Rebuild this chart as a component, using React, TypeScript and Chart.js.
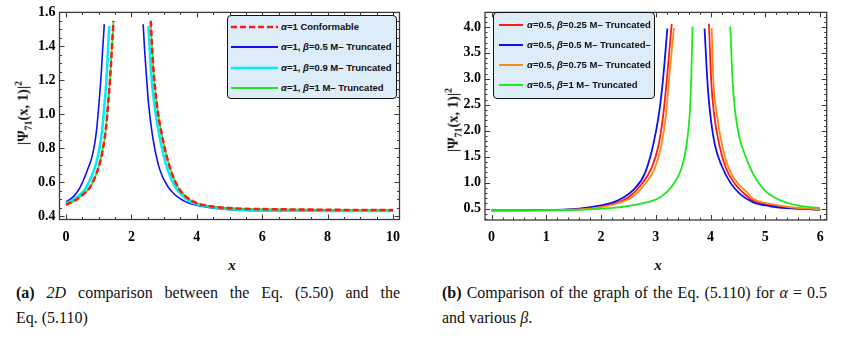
import React, { useEffect, useRef } from "react";
import { Chart, registerables } from "chart.js";
Chart.register(...registerables);

type P = [number, number];

// ---------- Panel (a) ----------
const xTicksA = [0, 2, 4, 6, 8, 10];
const yTicksA = [0.4, 0.6, 0.8, 1.0, 1.2, 1.4, 1.6];

const conformableLeftA: P[] = [[0, 0.468], [0.25, 0.49], [0.53, 0.53], [0.73, 0.57], [0.99, 0.685], [1.1, 0.77], [1.21, 0.9], [1.29, 1.07], [1.35, 1.22], [1.4, 1.38], [1.45, 1.55]];
const conformableRightA: P[] = [[2.59, 1.55], [2.63, 1.4], [2.67, 1.27], [2.77, 1.07], [2.93, 0.88], [3.18, 0.685], [3.43, 0.57], [3.84, 0.492], [4.3, 0.463], [5, 0.448], [6, 0.442], [7, 0.44], [8, 0.438], [9, 0.437], [10, 0.437]];

const beta05LeftA: P[] = [[0, 0.485], [0.25, 0.52], [0.43, 0.57], [0.68, 0.685], [0.82, 0.77], [0.93, 0.9], [1.01, 1.07], [1.07, 1.22], [1.12, 1.38], [1.17, 1.53]];
const beta05RightA: P[] = [[2.36, 1.53], [2.4, 1.39], [2.45, 1.25], [2.52, 1.07], [2.64, 0.88], [2.85, 0.685], [3.13, 0.57], [3.59, 0.492], [4.2, 0.457], [5, 0.438], [6, 0.433], [8, 0.431], [10, 0.431]];

const beta09LeftA: P[] = [[0, 0.475], [0.25, 0.5], [0.5, 0.54], [0.62, 0.57], [0.88, 0.685], [0.99, 0.77], [1.1, 0.9], [1.18, 1.07], [1.24, 1.22], [1.28, 1.37], [1.32, 1.52]];
const beta09RightA: P[] = [[2.52, 1.52], [2.56, 1.38], [2.6, 1.25], [2.7, 1.06], [2.85, 0.88], [3.09, 0.685], [3.35, 0.57], [3.75, 0.492], [4.25, 0.46], [5, 0.442], [6, 0.435], [8, 0.432], [10, 0.431]];

const beta1LeftA: P[] = [[0, 0.468], [0.25, 0.49], [0.53, 0.53], [0.73, 0.57], [0.99, 0.685], [1.1, 0.77], [1.21, 0.9], [1.29, 1.07], [1.35, 1.22], [1.4, 1.38], [1.45, 1.55]];
const beta1RightA: P[] = [[2.59, 1.55], [2.63, 1.4], [2.67, 1.27], [2.77, 1.07], [2.93, 0.88], [3.18, 0.685], [3.43, 0.57], [3.84, 0.492], [4.3, 0.463], [5, 0.448], [6, 0.442], [7, 0.44], [8, 0.438], [9, 0.437], [10, 0.437]];

// ---------- Panel (b) ----------
const xTicksB = [0, 1, 2, 3, 4, 5, 6];
const yTicksB = [0.5, 1.0, 1.5, 2.0, 2.5, 3.0, 3.5, 4.0];

const b025LeftB: P[] = [[0, 0.465], [0.8, 0.468], [1.6, 0.49], [2.0, 0.54], [2.22, 0.59], [2.5, 0.72], [2.74, 0.97], [2.92, 1.28], [3.05, 1.72], [3.14, 2.35], [3.2, 2.98], [3.29, 4.06]];
const b025RightB: P[] = [[3.97, 4.06], [4.01, 2.98], [4.06, 2.35], [4.16, 1.72], [4.28, 1.28], [4.45, 0.97], [4.6, 0.8], [4.78, 0.65], [5.09, 0.57], [5.39, 0.52], [6, 0.48]];

const b05LeftB: P[] = [[0, 0.465], [0.8, 0.47], [1.6, 0.5], [2.0, 0.56], [2.22, 0.62], [2.4, 0.71], [2.59, 0.86], [2.8, 1.18], [2.95, 1.72], [3.06, 2.35], [3.13, 2.98], [3.21, 3.97]];
const b05RightB: P[] = [[3.89, 3.97], [3.94, 2.98], [3.99, 2.35], [4.08, 1.72], [4.2, 1.33], [4.36, 1.0], [4.54, 0.78], [4.78, 0.62], [5.09, 0.545], [5.39, 0.51], [6, 0.48]];

const b075LeftB: P[] = [[0, 0.465], [0.8, 0.467], [1.6, 0.485], [2.0, 0.53], [2.22, 0.575], [2.56, 0.72], [2.8, 0.97], [2.98, 1.28], [3.1, 1.72], [3.19, 2.35], [3.24, 2.98], [3.33, 3.98]];
const b075RightB: P[] = [[4.02, 3.98], [4.05, 2.98], [4.11, 2.35], [4.21, 1.72], [4.33, 1.28], [4.51, 0.97], [4.65, 0.83], [4.78, 0.69], [5.09, 0.59], [5.39, 0.535], [6, 0.485]];

const b1LeftB: P[] = [[0, 0.465], [0.8, 0.466], [1.6, 0.475], [2.22, 0.515], [2.5, 0.55], [2.75, 0.6], [3.08, 0.72], [3.32, 0.97], [3.47, 1.28], [3.56, 1.72], [3.62, 2.35], [3.645, 2.98], [3.67, 4.01]];
const b1RightB: P[] = [[4.36, 4.01], [4.4, 2.98], [4.45, 2.35], [4.53, 1.85], [4.63, 1.53], [4.78, 1.16], [4.97, 0.87], [5.21, 0.69], [5.58, 0.56], [6, 0.51]];

// ---------- helpers ----------
const toPts = (left: P[], right: P[]) => {
  const a: any[] = left.map(([x, y]) => ({ x, y }));
  a.push({ x: (left[left.length - 1][0] + right[0][0]) / 2, y: null });
  right.forEach(([x, y]) => a.push({ x, y }));
  return a;
};

const framePlugin = {
  id: "mframe",
  afterDraw(chart: any, _args: any, opts: any) {
    const { ctx, chartArea: a, scales } = chart;
    const xs = scales.x, ys = scales.y;
    ctx.save();
    ctx.strokeStyle = "#3a3a3a";
    ctx.lineWidth = 1;
    const drawX = (v: number, len: number) => {
      const p = Math.round(xs.getPixelForValue(v)) + 0.5;
      ctx.beginPath();
      ctx.moveTo(p, a.bottom); ctx.lineTo(p, a.bottom - len);
      ctx.moveTo(p, a.top); ctx.lineTo(p, a.top + len);
      ctx.stroke();
    };
    const drawY = (v: number, len: number) => {
      const p = Math.round(ys.getPixelForValue(v)) + 0.5;
      ctx.beginPath();
      ctx.moveTo(a.left, p); ctx.lineTo(a.left + len, p);
      ctx.moveTo(a.right, p); ctx.lineTo(a.right - len, p);
      ctx.stroke();
    };
    const eps = 1e-9;
    for (let v = Math.ceil(xs.min / opts.xMinor) * opts.xMinor; v <= xs.max + eps; v += opts.xMinor) drawX(v, 2.5);
    for (let v = Math.ceil(ys.min / opts.yMinor) * opts.yMinor; v <= ys.max + eps; v += opts.yMinor) drawY(v, 2.5);
    opts.xMajor.forEach((v: number) => drawX(v, 5));
    opts.yMajor.forEach((v: number) => drawY(v, 5));
    ctx.lineWidth = 1.3;
    ctx.strokeRect(a.left, a.top, a.right - a.left, a.bottom - a.top);
    ctx.restore();
  },
};

const tickFont = { family: "'Liberation Serif', 'Times New Roman', serif", size: 14, weight: "bold" as const };

function Panel(props: any) {
  const ref = useRef<HTMLCanvasElement>(null);
  useEffect(() => {
    const p = props;
    const chart = new Chart(ref.current!, {
      type: "line",
      data: { datasets: p.datasets },
      options: {
        animation: false,
        responsive: false,
        maintainAspectRatio: false,
        layout: { padding: p.padding },
        elements: { point: { radius: 0 } },
        plugins: {
          legend: { display: false },
          tooltip: { enabled: false },
          mframe: { xMajor: p.xTicks, yMajor: p.yTicks, xMinor: p.xMinor, yMinor: p.yMinor },
        } as any,
        scales: {
          x: {
            type: "linear",
            min: p.xMin,
            max: p.xMax,
            grid: { display: false, drawTicks: false },
            border: { display: false },
            afterBuildTicks: (s: any) => { s.ticks = p.xTicks.map((v: number) => ({ value: v })); },
            afterFit: (s: any) => { s.height = p.xAxisH; },
            ticks: { font: tickFont, color: "#000", padding: 9, maxRotation: 0, autoSkip: false, callback: (v: any) => String(v) },
          },
          y: {
            type: "linear",
            min: p.yMin,
            max: p.yMax,
            grid: { display: false, drawTicks: false },
            border: { display: false },
            afterBuildTicks: (s: any) => { s.ticks = p.yTicks.map((v: number) => ({ value: v })); },
            afterFit: (s: any) => { s.width = p.yAxisW; },
            ticks: { font: tickFont, color: "#000", padding: 4, autoSkip: false, callback: (v: any) => Number(v).toFixed(1) },
          },
        },
      },
      plugins: [framePlugin as any],
    });
    return () => chart.destroy();
  }, []);
  return (
    <canvas
      ref={ref}
      width={props.w}
      height={props.h}
      style={{ position: "absolute", left: props.left, top: 0, width: props.w, height: props.h }}
    />
  );
}

const line = (label: string, data: any[], color: string, width: number, dash?: number[]) => ({
  label,
  data,
  borderColor: color,
  backgroundColor: color,
  borderWidth: width,
  borderDash: dash || [],
  fill: false,
  spanGaps: false,
  cubicInterpolationMode: "monotone" as const,
  pointRadius: 0,
});

const RED = "#ff1a1a";
const BLUE = "#1010ee";
const CYAN = "#00f0f0";
const GREEN = "#1ee81e";
const ORANGE = "#ff8a1a";

const datasetsA = [
  line("α=1 Conformable", toPts(conformableLeftA, conformableRightA), RED, 2.6, [6, 3]),
  line("α=1, β=1 M– Truncated", toPts(beta1LeftA, beta1RightA), GREEN, 1.6),
  line("α=1, β=0.9 M– Truncated", toPts(beta09LeftA, beta09RightA), CYAN, 2.6),
  line("α=1, β=0.5 M– Truncated", toPts(beta05LeftA, beta05RightA), BLUE, 1.6),
];

const datasetsB = [
  line("α=0.5, β=1 M– Truncated", toPts(b1LeftB, b1RightB), GREEN, 1.8),
  line("α=0.5, β=0.75 M– Truncated", toPts(b075LeftB, b075RightB), ORANGE, 1.8),
  line("α=0.5, β=0.5 M– Truncated–", toPts(b05LeftB, b05RightB), BLUE, 1.8),
  line("α=0.5, β=0.25 M– Truncated", toPts(b025LeftB, b025RightB), RED, 1.8),
];

const serif = "'Liberation Serif', 'Times New Roman', serif";
const sans = "'Liberation Sans', Arial, sans-serif";

function LegendBox(props: { left: number; top: number; w: number; h: number; rows: number[]; lineX: number; lineW: number; textX: number; items: any[] }) {
  return (
    <div
      style={{
        position: "absolute", left: props.left, top: props.top, width: props.w, height: props.h,
        border: "1.5px solid #111", borderRadius: 4, background: "#ddecf9", boxSizing: "border-box",
      }}
    >
      {props.items.map((it, i) => (
        <React.Fragment key={i}>
          <svg style={{ position: "absolute", left: props.lineX, top: props.rows[i] - 3 }} width={props.lineW} height={6}>
            <line x1={0} y1={3} x2={props.lineW} y2={3} stroke={it.color} strokeWidth={it.width} strokeDasharray={it.dash || undefined} />
          </svg>
          <div
            style={{
              position: "absolute", left: props.textX, top: props.rows[i] - 7, height: 14, lineHeight: "14px",
              fontFamily: sans, fontWeight: "bold", fontSize: 9.5, color: "#111", whiteSpace: "nowrap",
            }}
          >
            {it.text}
          </div>
        </React.Fragment>
      ))}
    </div>
  );
}

const YTitle = ({ cx, cy }: { cx: number; cy: number }) => (
  <div
    style={{
      position: "absolute", left: cx, top: cy, transform: "translate(-50%, -50%) rotate(-90deg)",
      fontFamily: serif, fontWeight: "bold", fontSize: 14.5, whiteSpace: "nowrap", color: "#111",
    }}
  >
    |Ψ<sub style={{ fontSize: 10 }}>71</sub>(x, 1)|<sup style={{ fontSize: 10 }}>2</sup>
  </div>
);

const XTitle = ({ cx, cy }: { cx: number; cy: number }) => (
  <div
    style={{
      position: "absolute", left: cx, top: cy, transform: "translate(-50%, -50%)",
      fontFamily: serif, fontWeight: "bold", fontStyle: "italic", fontSize: 15, color: "#111",
    }}
  >
    x
  </div>
);

export default function App() {
  const legendA = [
    { color: RED, width: 2.4, dash: "6 3", text: <><i>α</i>=1 Conformable</> },
    { color: BLUE, width: 2, text: <><i>α</i>=1, <i>β</i>=0.5 M– Truncated</> },
    { color: CYAN, width: 2.6, text: <><i>α</i>=1, <i>β</i>=0.9 M– Truncated</> },
    { color: GREEN, width: 2, text: <><i>α</i>=1, <i>β</i>=1 M– Truncated</> },
  ];
  const legendB = [
    { color: RED, width: 2, text: <><i>α</i>=0.5, <i>β</i>=0.25 M– Truncated</> },
    { color: BLUE, width: 2, text: <><i>α</i>=0.5, <i>β</i>=0.5 M– Truncated–</> },
    { color: ORANGE, width: 2, text: <><i>α</i>=0.5, <i>β</i>=0.75 M– Truncated</> },
    { color: GREEN, width: 2, text: <><i>α</i>=0.5, <i>β</i>=1 M– Truncated</> },
  ];
  const capStyle: React.CSSProperties = {
    position: "absolute", top: 280, fontFamily: serif, fontSize: 16, lineHeight: "25px", color: "#111",
  };
  return (
    <div style={{ position: "absolute", left: 0, top: 0, width: 855, height: 349, background: "#fff", overflow: "hidden" }}>
      <Panel
        left={0} w={420} h={246}
        padding={{ top: 9, left: 0, right: 20.5, bottom: 0 }}
        yAxisW={59.5} xAxisH={26.5}
        xMin={-0.2} xMax={10.2} yMin={0.381} yMax={1.6}
        xTicks={xTicksA} yTicks={yTicksA} xMinor={0.5} yMinor={0.05}
        datasets={datasetsA}
      />
      <Panel
        left={430} w={425} h={246}
        padding={{ top: 7.3, left: 0, right: 28.3, bottom: 0 }}
        yAxisW={55} xAxisH={26}
        xMin={-0.12} xMax={6.12} yMin={0.28} yMax={4.28}
        xTicks={xTicksB} yTicks={yTicksB} xMinor={0.2} yMinor={0.1}
        datasets={datasetsB}
      />
      <YTitle cx={23} cy={113} />
      <YTitle cx={453} cy={120} />
      <XTitle cx={232} cy={265} />
      <XTitle cx={658} cy={265} />
      <LegendBox left={227} top={15} w={170} h={84} rows={[10.7, 30.7, 51.7, 71.7]} lineX={3} lineW={47} textX={53} items={legendA} />
      <LegendBox left={493} top={12} w={162} h={87} rows={[12, 32, 52, 72.3]} lineX={5} lineW={24} textX={33} items={legendB} />
      <div style={{ ...capStyle, left: 16, width: 384 }}>
        <div style={{ textAlign: "justify", textAlignLast: "justify" } as any}>
          <b>(a)</b> <i>2D</i> comparison between the Eq. (5.50) and the
        </div>
        <div>Eq. (5.110)</div>
      </div>
      <div style={{ ...capStyle, left: 442, width: 385 }}>
        <div style={{ textAlign: "justify", textAlignLast: "justify" } as any}>
          <b>(b)</b> Comparison of the graph of the Eq. (5.110) for <i>α</i> = 0.5
        </div>
        <div>and various <i>β</i>.</div>
      </div>
    </div>
  );
}
